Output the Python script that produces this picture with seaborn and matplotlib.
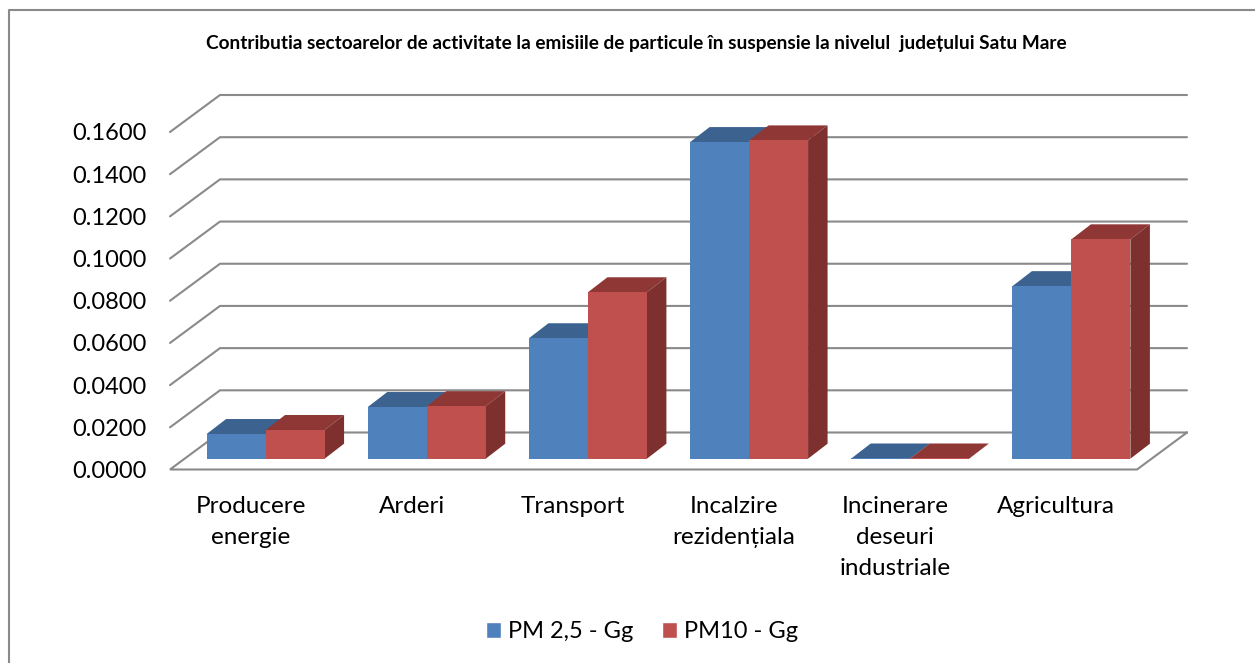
# Contributia sectoarelor - pseudo 3D grouped bars drawn on top of seaborn barplot
import pandas as pd
import seaborn as sns
import matplotlib.pyplot as plt
from matplotlib.lines import Line2D
from matplotlib.patches import Polygon
from matplotlib.transforms import IdentityTransform

# data
sectors = ['Producere\nenergie', 'Arderi', 'Transport', 'Incalzire\nrezidențiala',
           'Incinerare\ndeseuri\nindustriale', 'Agricultura']
pm25 = [0.0117, 0.0245, 0.0571, 0.1501, 0.0001, 0.0818]
pm10 = [0.0136, 0.0249, 0.0789, 0.1509, 0.0001, 0.1040]
series_names = ['PM 2,5 - Gg', 'PM10 - Gg']
y_ticks = [0.00, 0.02, 0.04, 0.06, 0.08, 0.10, 0.12, 0.14, 0.16]
title = 'Contributia sectoarelor de activitate la emisiile de particule în suspensie la nivelul  județului Satu Mare'

df = pd.DataFrame({
    'sector': sectors * 2,
    'value': pm25 + pm10,
    'series': [series_names[0]] * 6 + [series_names[1]] * 6,
})

W, H = 1255, 663
GREY = '#8a8a8a'
front = ['#4F81BD', '#C0504D']
top = ['#3C6290', '#8E3735']
side = ['#2F4D72', '#7D302E']

sns.set_theme(style='white')
plt.rcParams['font.family'] = ['Lato', 'DejaVu Sans']

fig = plt.figure(figsize=(W / 100, H / 100), dpi=100)


def px_axes(left, bottom, width, height):
    # bottom is measured from the top of the image, in pixels
    return fig.add_axes([left / W, 1 - bottom / H, width / W, height / H])


ax = px_axes(170, 469.5, 967, 337.5)
bars = px_axes(185, 458.7, 967, 337.5)
bars.patch.set_alpha(0)

sns.barplot(data=df, x='sector', y='value', hue='series', palette=front,
            width=0.732, gap=0, saturation=1, ax=bars)
handles, labels = bars.get_legend_handles_labels()
bars.get_legend().remove()
bars.set_ylim(0, 0.16)
bars.set_xlim(-0.5, 5.5)
bars.axis('off')

# back wall and floor grid, from the real y scale
ax.set_xlim(-0.5, 5.5)
ax.set_ylim(0, 0.16)
ax.set_yticks(y_ticks, [f'{v:.4f}' for v in y_ticks], fontsize=17, color='black')
ax.set_xticks(range(6), sectors, fontsize=17.5, color='black', linespacing=1.6)
ax.tick_params(axis='y', length=0, pad=17)
ax.tick_params(axis='x', length=0, pad=19)
ax.set_xlabel('')
ax.set_ylabel('')
sns.despine(ax=ax, left=True, bottom=True)

DX, DY = 50, 37
xa, _ = ax.transData.transform((-0.5, 0))
xb, _ = ax.transData.transform((5.5, 0))
for v in y_ticks:
    _, yp = ax.transData.transform((0, v))
    xs = [xa, xa + DX, xb + DX]
    ys = [yp, yp + DY, yp + DY]
    if v == 0:
        xs = [xb + DX, xa + DX, xa, xb, xb + DX]
        ys = [yp + DY, yp + DY, yp, yp, yp + DY]
    ax.add_line(Line2D(xs, ys, transform=IdentityTransform(), color=GREY, lw=1.5,
                       clip_on=False, solid_joinstyle='miter'))

# top and side faces of the bars, taken from the seaborn patches
dx, dy = 19.5, 15
for i, p in enumerate(bars.patches[:12]):
    k = i // 6
    x0, y0 = bars.transData.transform((p.get_x(), 0))
    x1, y1 = bars.transData.transform((p.get_x() + p.get_width(), p.get_height()))
    p.set_zorder(4)
    p.set_edgecolor('none')
    bars.add_patch(Polygon([(x0, y1), (x1, y1), (x1 + dx, y1 + dy), (x0 + dx, y1 + dy)],
                           closed=True, transform=IdentityTransform(), fc=top[k], ec='none',
                           clip_on=False, zorder=3))
    bars.add_patch(Polygon([(x1, y0), (x1 + dx, y0 + dy), (x1 + dx, y1 + dy), (x1, y1)],
                           closed=True, transform=IdentityTransform(), fc=side[k], ec='none',
                           clip_on=False, zorder=3))

fig.text(636 / W, 1 - 43 / H, title, ha='center', va='center', fontsize=13.7, fontweight='bold', color='black')

fig.legend(handles, labels, loc='center', bbox_to_anchor=(642 / W, 1 - 632 / H), ncol=2, frameon=False,
           fontsize=17, handlelength=0.65, handleheight=0.65, handletextpad=0.28, columnspacing=1.2,
           labelcolor='black')

# outer frame only shows on the top and left in the reference
fig.add_artist(Line2D([9 / W, 9 / W, 1], [0, 1 - 9.5 / H, 1 - 9.5 / H], transform=fig.transFigure,
                      color=GREY, lw=1.5))

fig.savefig('out.png', dpi=100)
